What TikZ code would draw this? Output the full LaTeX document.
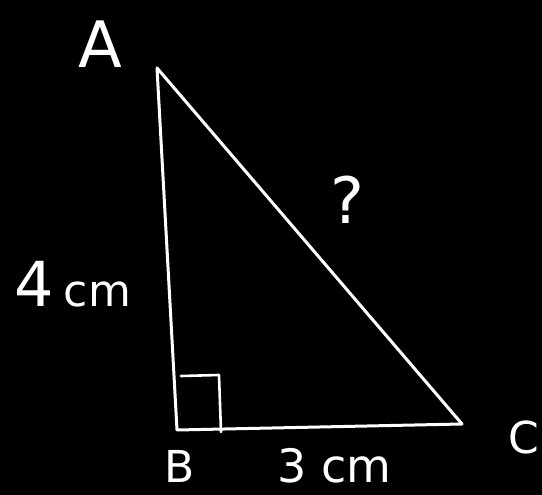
\documentclass[tikz,border=0pt]{standalone}
\usepackage{fontspec}
\setmainfont{DejaVu Sans}
\begin{document}
\begin{tikzpicture}[x=1pt,y=-1pt,
  stroke/.style={white,line width=3pt,line cap=round,line join=round},
  lbl/.style={text=white,inner sep=0pt,font=\fontsize{#1}{#1}\selectfont},
  lbl/.default=40]
\fill[black] (0,0) rectangle (542,495);
\useasboundingbox (0,0) rectangle (542,495);
\coordinate (A) at (157,68);
\coordinate (B) at (177,430);
\coordinate (C) at (462,424);
\coordinate (r1) at (181,376);
\coordinate (r2) at (219,375);
\coordinate (r3) at (221,432);
\draw[stroke] (A) -- (B) -- (C) -- cycle;
\draw[stroke,line width=2.6pt] (r1) -- (r2) -- (r3);
\node[lbl=64] (la) at (100,44) {A};
\node[lbl=62,anchor=base west] (l4) at (14,306) {4\,{\fontsize{44}{44}\selectfont cm}};
\node[lbl=64] (lq) at (347,200) {?};
\node[lbl=44,anchor=base] (lb) at (180,482) {B};
\node[lbl=46,anchor=base west] (l3) at (277,482) {3 cm};
\node[lbl=44,anchor=base west] (lc) at (508,453) {C};
\end{tikzpicture}
\end{document}
